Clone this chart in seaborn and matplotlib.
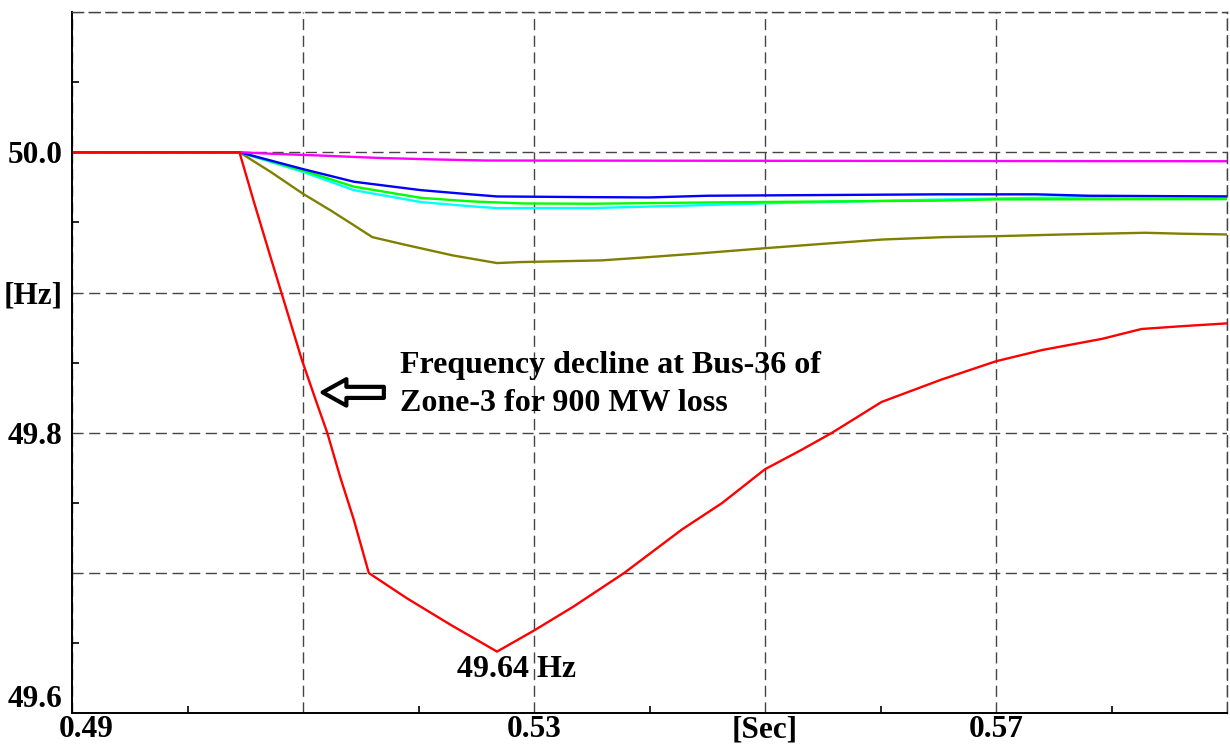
import matplotlib
matplotlib.use("Agg")
import matplotlib.pyplot as plt
import matplotlib.transforms as mtransforms
import seaborn as sns
import pandas as pd
import numpy as np

# ---------------- data ----------------
red_t = [0.49, 0.5045, 0.5057, 0.5072, 0.5082, 0.5099, 0.5112, 0.5121, 0.5132, 0.5144,
         0.5157, 0.5190, 0.5228, 0.5268, 0.5300, 0.5334, 0.5378, 0.5428, 0.5463, 0.5500,
         0.5532, 0.5558, 0.5601, 0.5653, 0.5700, 0.5740, 0.5792, 0.5826, 0.5861, 0.5900]
red_f = [50.0, 50.0, 49.966, 49.925, 49.898, 49.852, 49.821, 49.800, 49.769, 49.738,
         49.700, 49.682, 49.663, 49.644, 49.659, 49.676, 49.700, 49.731, 49.750, 49.774,
         49.788, 49.800, 49.822, 49.838, 49.851, 49.859, 49.867, 49.874, 49.876, 49.878]

magenta_t = [0.49, 0.5045, 0.5074, 0.5114, 0.5164, 0.5218, 0.5259, 0.5900]
magenta_f = [50.0, 50.0, 49.9989, 49.9977, 49.9960, 49.9948, 49.9941, 49.9936]

blue_t = [0.49, 0.5045, 0.5100, 0.5144, 0.5202, 0.5245, 0.5268, 0.5350, 0.5400, 0.5450,
          0.5550, 0.5650, 0.5735, 0.5780, 0.5900]
blue_f = [50.0, 50.0, 49.988, 49.979, 49.973, 49.970, 49.9685, 49.968, 49.9678, 49.969,
          49.9695, 49.970, 49.970, 49.969, 49.9685]

green_t = [0.49, 0.5045, 0.5100, 0.5144, 0.5202, 0.5245, 0.5290, 0.5350, 0.5450, 0.5550,
           0.5650, 0.5700, 0.5900]
green_f = [50.0, 50.0, 49.987, 49.9755, 49.9675, 49.965, 49.9635, 49.9633, 49.9642, 49.9649,
           49.9655, 49.9664, 49.9666]

cyan_t = [0.49, 0.5045, 0.5100, 0.5144, 0.5202, 0.5245, 0.5268, 0.5350, 0.5400, 0.5455,
          0.5505, 0.5575, 0.5640, 0.5720, 0.5810, 0.5900]
cyan_f = [50.0, 50.0, 49.986, 49.973, 49.9645, 49.9615, 49.9602, 49.9602, 49.9613, 49.9625,
          49.9637, 49.9649, 49.9661, 49.9673, 49.9684, 49.9685]

olive_t = [0.49, 0.5045, 0.5072, 0.5100, 0.5124, 0.5144, 0.5160, 0.5187, 0.5230, 0.5268,
           0.5288, 0.5358, 0.5392, 0.5445, 0.5500, 0.5550, 0.5602, 0.5655, 0.5702, 0.5759,
           0.5829, 0.5862, 0.5900]
olive_f = [50.0, 50.0, 49.986, 49.9704, 49.9585, 49.948, 49.9395, 49.9343, 49.9264, 49.921,
           49.9217, 49.9229, 49.9248, 49.928, 49.9316, 49.9347, 49.9378, 49.9395, 49.9402, 49.9414,
           49.9426, 49.9419, 49.9414]

x_ticks = [0.49, 0.51, 0.53, 0.55, 0.57, 0.59]
x_labels = ["0.49", "", "0.53", "[Sec]", "0.57", ""]
y_ticks = [49.6, 49.7, 49.8, 49.9, 50.0, 50.1]
y_labels = ["49.6", "", "49.8", "[Hz]", "50.0", ""]

series = [("olive", olive_t, olive_f, "#808000"),
          ("cyan", cyan_t, cyan_f, "#00ffff"),
          ("green", green_t, green_f, "#00ff00"),
          ("blue", blue_t, blue_f, "#0000ff"),
          ("magenta", magenta_t, magenta_f, "#ff00ff"),
          ("red", red_t, red_f, "#ff0000")]

frames = []
for name, t, f, c in series:
    frames.append(pd.DataFrame({"t": t, "f": f, "series": name}))
df = pd.concat(frames, ignore_index=True)

# ---------------- figure ----------------
sns.set_style("white")
plt.rcParams["font.family"] = ["Liberation Serif", "DejaVu Serif"]
plt.rcParams["lines.scale_dashes"] = False

fig = plt.figure(figsize=(12.3, 7.47), dpi=100)
ax = fig.add_axes([72 / 1230, (747 - 713.3) / 747, (1227 - 72) / 1230, (713.3 - 12) / 747])

for name, t, f, c in series:
    sns.lineplot(data=df[df["series"] == name], x="t", y="f", color=c, linewidth=1.7,
                 ax=ax, legend=False, estimator=None)

ax.set_xlim(0.49, 0.59)
ax.set_ylim(49.6, 50.1)
ax.set_xlabel("")
ax.set_ylabel("")

ax.set_xticks(x_ticks)
ax.set_xticklabels(x_labels)
ax.set_yticks(y_ticks)
ax.set_yticklabels(y_labels)
ax.set_xticks([0.50, 0.52, 0.54, 0.56, 0.58], minor=True)
ax.set_yticks([49.65, 49.75, 49.85, 49.95, 50.05], minor=True)

ax.tick_params(axis="both", which="both", bottom=True, left=True, top=False, right=False)
ax.tick_params(axis="both", which="major", length=0, labelsize=22.5, labelcolor="black")
ax.tick_params(axis="y", which="major", pad=7)
ax.tick_params(axis="x", which="major", pad=1.5)
ax.tick_params(axis="both", which="minor", direction="in", length=5, width=1.2, color="black")
for lab in ax.get_xticklabels() + ax.get_yticklabels():
    lab.set_fontweight("bold")

# small offsets of edge labels as in the reference
for lab in ax.get_xticklabels():
    if lab.get_text() == "0.49":
        lab.set_transform(lab.get_transform() +
                          mtransforms.ScaledTranslation(14 / 100, 0, fig.dpi_scale_trans))
for lab in ax.get_yticklabels():
    if lab.get_text() == "49.6":
        lab.set_transform(lab.get_transform() +
                          mtransforms.ScaledTranslation(0, 17 / 100, fig.dpi_scale_trans))

dash = (0, (8, 4))
ax.grid(True, which="major", color="#444444", linestyle=dash, linewidth=1.0)
ax.set_axisbelow(True)
for side in ["left", "bottom"]:
    ax.spines[side].set_color("black")
    ax.spines[side].set_linewidth(1.4)
for side in ["top", "right"]:
    ax.spines[side].set_color("#444444")
    ax.spines[side].set_linewidth(1.0)
    ax.spines[side].set_linestyle(dash)

# ---------------- annotations ----------------
ax.annotate("", xy=(0.51170, 49.8288), xytext=(0.5170, 49.8288),
            arrowprops=dict(arrowstyle="simple,head_length=0.9,head_width=1.0,tail_width=0.42",
                            fc="white", ec="black", lw=3, mutation_scale=19,
                            shrinkA=0, shrinkB=0))
ax.text(0.51842, 49.8345, "Frequency decline at Bus-36 of\nZone-3 for 900 MW loss",
        ha="left", va="center", fontsize=23, fontweight="bold", linespacing=1.42, color="black")
ax.text(0.52848, 49.6315, "49.64 Hz", ha="center", va="center", fontsize=23,
        fontweight="bold", color="black")

fig.savefig("out.png", dpi=100)
